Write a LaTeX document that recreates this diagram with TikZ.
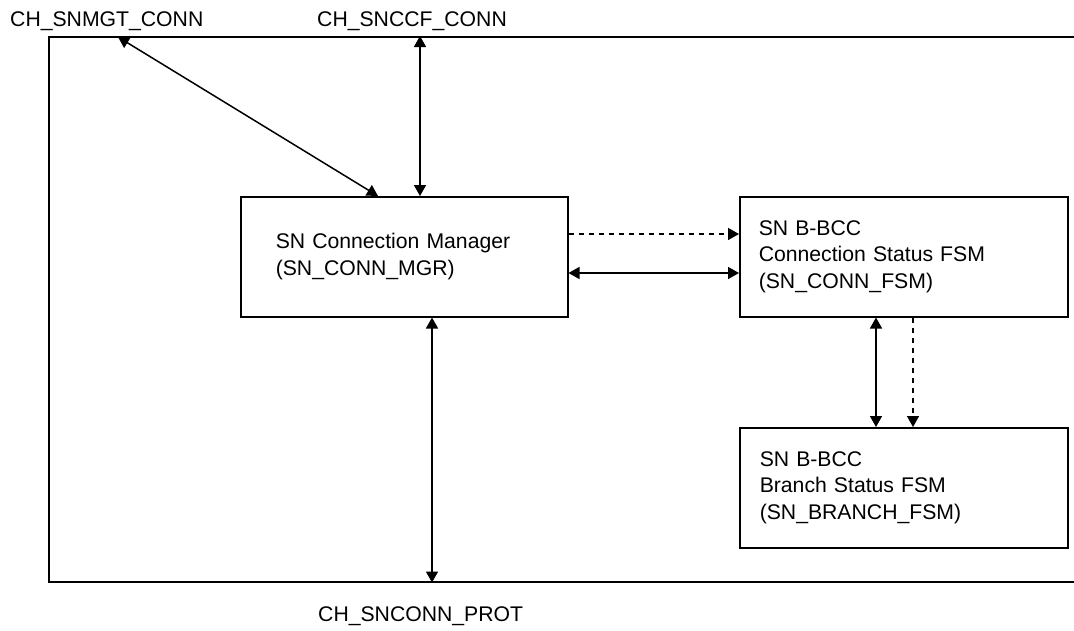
\documentclass[tikz,border=0pt]{standalone}
\usepackage{fontspec}
\setmainfont{Liberation Sans}
\usetikzlibrary{arrows.meta}
\tikzset{
  blockbox/.style={draw, line width=1.5pt, anchor=north west, align=left, inner ysep=0pt},
  biarrow/.style={line width=1.5pt, {Triangle[length=11pt,width=12pt]}-{Triangle[length=11pt,width=12pt]}},
  oneway/.style={line width=1.5pt, dash pattern=on 5pt off 5pt, -{Triangle[length=11pt,width=12pt]}},
  portlabel/.style={anchor=base west, inner sep=0pt}
}
\begin{document}
\begin{tikzpicture}[x=1pt,y=-1pt, font=\fontsize{21.2}{26.5}\selectfont]
\useasboundingbox (0,0) rectangle (1074,630);
% outer frame
\node[draw, line width=1.5pt, anchor=north west, minimum width=1032pt, minimum height=545pt, inner sep=0pt] (frame) at (48,36) {};
% blocks
\node[blockbox, inner xsep=35pt, text width=257pt, minimum height=120pt] (mgr) at (240,196)
  {SN Connection Manager\\(SN\_CONN\_MGR)};
\node[blockbox, inner xsep=19pt, text width=290pt, minimum height=120pt] (cfsm) at (739,196)
  {SN B-BCC\\Connection Status FSM\\(SN\_CONN\_FSM)};
\node[blockbox, inner xsep=20pt, text width=288pt, minimum height=120pt] (bfsm) at (739,427)
  {SN B-BCC\\Branch Status FSM\\(SN\_BRANCH\_FSM)};
% labels
\node[portlabel] (lmgt) at (10,26) {CH\_SNMGT\_CONN};
\node[portlabel] (lccf) at (317,26) {CH\_SNCCF\_CONN};
\node[portlabel] (lprot) at (318,621) {CH\_SNCONN\_PROT};
% connector ends
\coordinate (mgtEnd) at (118,37);
% connectors
\draw[biarrow] (mgtEnd) -- (378,0 |- mgr.north);
\draw[biarrow] (420,0 |- frame.north) -- (420,0 |- mgr.north);
\draw[oneway] (mgr.east |- 0,234) -- (cfsm.west |- 0,234);
\draw[biarrow] (mgr.east |- 0,273) -- (cfsm.west |- 0,273);
\draw[biarrow] (432,0 |- mgr.south) -- (432,0 |- frame.south);
\draw[biarrow] (876,0 |- cfsm.south) -- (876,0 |- bfsm.north);
\draw[oneway] (913,0 |- cfsm.south) -- (913,0 |- bfsm.north);
\end{tikzpicture}
\end{document}
